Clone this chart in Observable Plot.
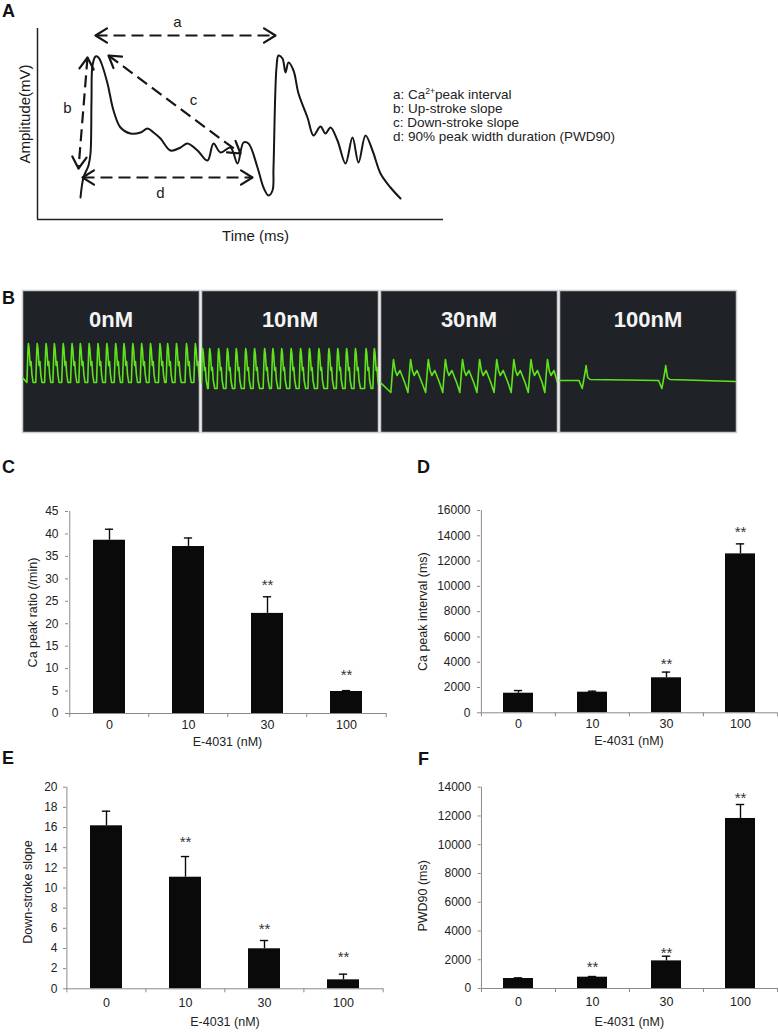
<!DOCTYPE html>
<html><head><meta charset="utf-8">
<script src="https://cdn.jsdelivr.net/npm/d3@7"></script>
<script src="https://cdn.jsdelivr.net/npm/@observablehq/plot@0.6"></script>
<style>
html,body{margin:0;padding:0;background:#fff;}
#fig{position:relative;width:778px;height:1032px;overflow:hidden;font-family:"Liberation Sans",Arial,Helvetica,sans-serif;color:#222;}
#fig svg{overflow:visible;}
.letter{position:absolute;font-weight:bold;font-size:18px;line-height:18px;color:#111;}
.legend{position:absolute;font-size:13.5px;line-height:13.9px;color:#222;white-space:nowrap;}
.legend sup{font-size:8.5px;line-height:0;vertical-align:5px;}
</style></head><body><div id="fig"></div>
<script>
// ---------------- Panel A (schematic) data ----------------
const traceTime = [43,46,51,53,54,55,58,61,64,70,76,83,93,103,110,116,123,133,143,150,160,170,176,183,193,200,206,211,220,226,231,235,236,239,241,245,248,251,256,261,270,276,283,288,293,300,308,315,321,328,335,343,353,363];
const traceAmp  = [22,42,54,66,119,154,163,162,156,136,109,92,86,87,91,87,81,69,72,76,69,59,76,67,72,56,77,76,52,32,24,29,52,152,164,161,147,157,149,126,102,84,93,86,92,79,56,82,57,84,69,46,32,21];
const arrowName = ["a","b","c","d"];
const arrowX1 = [58, 50, 71, 45];
const arrowY1 = [184, 162, 164, 42];
const arrowX2 = [238, 41, 203, 215];
const arrowY2 = [184, 51, 66, 42];
const arrowLabelX = [140, 30, 156, 123];
const arrowLabelY = [197, 111, 119, 26];
const axisTimeExtent = [0, 406];
const axisAmpExtent = [0, 191];

// ---------------- Panel B (Ca traces) data ----------------
const bConds = ["0nM","10nM","30nM","100nM"];
const peaks0nM   = [1.0,2.5,4.0,5.4,6.9,8.4,9.8,11.3,12.8,14.3,15.8,17.2,18.7,20.2,21.7,23.3,24.6,26.1,27.8,29.3];
const peaks10nM  = [0.2,1.4,2.9,4.4,5.9,7.5,9.0,10.7,12.1,13.6,15.2,16.8,18.3,19.9,21.6,23.1,24.6,26.1,27.9,29.3];
const peaks30nM  = [2.2,5.1,8.1,11.0,13.9,16.8,19.7,22.6,25.5,28.3];
const peaks100nM = [4.5,18.0];
const beat0Off   = [-0.25,-0.08,0,0.12,0.3,0.45,0.6,0.8];
const beat0Val   = [50,82,89,84,67,71,58,50];
const beat10Off  = [-0.25,-0.08,0,0.12,0.3,0.45,0.6,0.85];
const beat10Val  = [44,78,84,79,62,65,52,44];
const beat30Off  = [-0.45,-0.08,0,0.3,0.6,1.1,1.9];
const beat30Val  = [40,68,73,62,57,62,50];
const beat100Off = [-1.2,-0.65,-0.05,0,0.3,0.7];
const beat100Val = [52,44,64,67,55,53];
const traceStartVal = [55,50,50,52];
const traceEndVal   = [52,48,50,51];
const panelDuration = 30;

// ---------------- Panels C-F (bar charts) data ----------------
const cats = ["0","10","30","100"];
const ratioMean = [38.6, 37.2, 22.3, 4.9];
const ratioSd   = [2.45, 1.9, 3.7, 0.2];
const ratioStar = [null, null, 29.4, 9.4];
const ratioTicks = [0,5,10,15,20,25,30,35,40,45];
const intervalMean = [1550, 1630, 2770, 12570];
const intervalSd   = [210, 80, 450, 790];
const intervalStar = [null, null, 4140, 14630];
const intervalTicks = [0,2000,4000,6000,8000,10000,12000,14000,16000];
const slopeMean = [16.17, 11.07, 3.97, 0.89];
const slopeSd   = [1.45, 2.05, 0.82, 0.56];
const slopeStar = [null, 14.98, 6.28, 3.54];
const slopeTicks = [0,2,4,6,8,10,12,14,16,18,20];
const pwdMean = [694, 787, 1921, 11825];
const pwdSd   = [46, 46, 324, 972];
const pwdStar = [null, 1736, 2707, 13537];
const pwdTicks = [0,2000,4000,6000,8000,10000,12000,14000];

const FONT = '"Liberation Sans", Arial, Helvetica, sans-serif';
const fig = document.getElementById("fig");
function place(node, left, top) {
  node.style.position = "absolute";
  node.style.left = left + "px";
  node.style.top = top + "px";
  fig.appendChild(node);
}
function html(tag, cls, left, top, content) {
  const el = document.createElement(tag);
  el.className = cls;
  el.innerHTML = content;
  place(el, left, top);
}

// ---------------- Panel A ----------------
const traceRows = traceTime.map((t, i) => ({t, a: traceAmp[i]}));
const arrows = arrowName.map((n, i) => ({n, x1: arrowX1[i], y1: arrowY1[i], x2: arrowX2[i], y2: arrowY2[i], lx: arrowLabelX[i], ly: arrowLabelY[i]}));
const deg = (dx, dy) => Math.atan2(dx, dy) * 180 / Math.PI;
const heads = arrows.flatMap(d => [
  {x: d.x2, y: d.y2, r: deg(d.x2 - d.x1, d.y2 - d.y1)},
  {x: d.x1, y: d.y1, r: deg(d.x1 - d.x2, d.y1 - d.y2)}
]);
const chevron = {draw(ctx, l) { const w = l * 0.62; ctx.moveTo(-w, l); ctx.lineTo(0, 0); ctx.lineTo(w, l); }};

const plotA = Plot.plot({
  width: 460, height: 260,
  marginLeft: 37, marginRight: 17, marginTop: 28, marginBottom: 41,
  style: {fontFamily: FONT, color: "#1a1a1a", background: "transparent"},
  x: {domain: axisTimeExtent, axis: null},
  y: {domain: axisAmpExtent, axis: null},
  marks: [
    Plot.ruleY([axisAmpExtent[0]], {stroke: "#222", strokeWidth: 1.5}),
    Plot.ruleX([axisTimeExtent[0]], {stroke: "#222", strokeWidth: 1.5}),
    Plot.line(traceRows, {x: "t", y: "a", stroke: "#161616", strokeWidth: 2, curve: "catmull-rom"}),
    Plot.link(arrows, {x1: "x1", y1: "y1", x2: "x2", y2: "y2", stroke: "#161616", strokeWidth: 2.2, strokeDasharray: "12,6"}),
    Plot.vector(heads, {x: "x", y: "y", rotate: "r", length: 11.5, anchor: "start", shape: chevron, stroke: "#161616", strokeWidth: 2.2}),
    Plot.text(arrows, {x: "lx", y: "ly", text: "n", fontSize: 15, fill: "#1a1a1a"}),
    Plot.text(["Time (ms)"], {text: d => d, frameAnchor: "bottom", textAnchor: "middle", dx: 15, dy: 21, fontSize: 15, fill: "#1a1a1a"}),
    Plot.text(["Amplitude(mV)"], {text: d => d, frameAnchor: "left", textAnchor: "middle", rotate: -90, dx: -12, dy: -10, fontSize: 15, fill: "#1a1a1a"})
  ]
});
place(plotA, 0, 0);

html("div", "legend", 393, 88,
  "a: Ca<sup>2+</sup>peak interval<br>b: Up-stroke slope<br>c: Down-stroke slope<br>d: 90% peak width duration (PWD90)");

// ---------------- Panel B ----------------
const peakSets = [peaks0nM, peaks10nM, peaks30nM, peaks100nM];
const beatOffs = [beat0Off, beat10Off, beat30Off, beat100Off];
const beatVals = [beat0Val, beat10Val, beat30Val, beat100Val];
const bRows = [];
bConds.forEach((cond, ci) => {
  const rows = [{cond, t: 0, v: traceStartVal[ci]}, {cond, t: panelDuration, v: traceEndVal[ci]}];
  peakSets[ci].forEach(p => beatOffs[ci].forEach((o, k) => rows.push({cond, t: p + o, v: beatVals[ci][k]})));
  rows.filter(r => r.t >= 0 && r.t <= panelDuration).sort((a, b) => a.t - b.t).forEach(r => bRows.push(r));
});
const plotB = Plot.plot({
  width: 778, height: 154,
  marginLeft: 22, marginRight: 41, marginTop: 10, marginBottom: 2,
  style: {fontFamily: FONT, background: "transparent"},
  fx: {domain: bConds, paddingInner: 0.01, paddingOuter: 0, axis: null},
  x: {domain: [0, panelDuration], axis: null},
  y: {domain: [0, 142], axis: null},
  marks: [
    Plot.frame({fill: "#1f2327", stroke: "#cdcdcd", strokeWidth: 1.5}),
    Plot.line(bRows, {fx: "cond", x: "t", y: "v", stroke: "#5fe31a", strokeWidth: 1.6, clip: true}),
    Plot.text(bConds, {fx: d => d, text: d => d, frameAnchor: "top", dy: 21, fill: "#f4f4f4", fontSize: 22, fontWeight: "bold"})
  ]
});
place(plotB, 0, 280);

// ---------------- Panels C-F ----------------
function barChart(o) {
  const rows = cats.map((c, i) => ({c, v: o.mean[i], hi: o.mean[i] + o.sd[i], s: o.star[i]}));
  const starRows = rows.filter(d => d.s != null);
  const step = (o.width - o.ml - o.mr) / cats.length;
  const bw = step * 0.4;
  const ins = (bw - 8) / 2;
  return Plot.plot({
    width: o.width, height: o.height,
    marginLeft: o.ml, marginRight: o.mr, marginTop: o.mt, marginBottom: o.mb,
    style: {fontFamily: FONT, fontSize: "12px", color: "#222", background: "transparent"},
    x: {type: "band", domain: cats, paddingInner: 0.6, paddingOuter: 0.3, axis: null},
    y: {domain: o.domain, axis: null},
    marks: [
      Plot.barY(rows, {x: "c", y: "v", fill: "#0a0a0a"}),
      Plot.ruleX(rows, {x: "c", y1: "v", y2: "hi", stroke: "#0a0a0a", strokeWidth: 1.4}),
      Plot.tickY(rows, {x: "c", y: "hi", stroke: "#0a0a0a", strokeWidth: 1.4, insetLeft: ins, insetRight: ins}),
      Plot.text(starRows, {x: "c", y: "s", text: () => "**", fontSize: 15, dy: 4, fill: "#333"}),
      Plot.ruleY([o.domain[0]], {stroke: "#8a8a8a", strokeWidth: 1}),
      Plot.ruleX([cats[0]], {dx: -step / 2, stroke: "#8a8a8a", strokeWidth: 1}),
      Plot.axisY({ticks: o.ticks, tickSize: 3, tickPadding: o.tp, tickFormat: d => String(d), stroke: "#8a8a8a", fill: "#222", fontSize: 12, label: null}),
      Plot.axisX({tickSize: 4, tickFormat: () => "", dx: -step / 2, stroke: "#8a8a8a", label: null}),
      Plot.axisX({ticks: [cats[cats.length - 1]], tickSize: 4, tickFormat: () => "", dx: step / 2, stroke: "#8a8a8a", label: null}),
      Plot.text(cats, {x: d => d, text: d => d, frameAnchor: "bottom", dy: o.tickDy, fontSize: 12.5, fill: "#222"}),
      Plot.text([o.xTitle], {text: d => d, frameAnchor: "bottom", textAnchor: "middle", dy: o.titleDy, fontSize: 12.5, fill: "#222"}),
      Plot.text([o.yTitle], {text: d => d, frameAnchor: "left", textAnchor: "middle", rotate: -90, dx: -o.ylx, dy: o.yly, fontSize: 12.5, fill: "#222"})
    ]
  });
}

place(barChart({width: 390, height: 270, ml: 68, mr: 4, mt: 31, mb: 37, tp: 7, tickDy: 15, titleDy: 32, ylx: 36, yly: 0,
  mean: ratioMean, sd: ratioSd, star: ratioStar, ticks: ratioTicks, domain: [0, 45],
  xTitle: "E-4031 (nM)", yTitle: "Ca peak ratio (/min)"}), 0, 480);
place(barChart({width: 388, height: 270, ml: 90, mr: 1, mt: 30, mb: 37.7, tp: 7, tickDy: 15, titleDy: 32, ylx: 58, yly: 0,
  mean: intervalMean, sd: intervalSd, star: intervalStar, ticks: intervalTicks, domain: [0, 16000],
  xTitle: "E-4031 (nM)", yTitle: "Ca peak interval (ms)"}), 390, 480);
place(barChart({width: 390, height: 262, ml: 66, mr: 7, mt: 16.7, mb: 43.7, tp: 6, tickDy: 18.5, titleDy: 37, ylx: 39, yly: 4,
  mean: slopeMean, sd: slopeSd, star: slopeStar, ticks: slopeTicks, domain: [0, 20],
  xTitle: "E-4031 (nM)", yTitle: "Down-stroke slope"}), 0, 770);
place(barChart({width: 388, height: 262, ml: 90.7, mr: 1, mt: 16.7, mb: 44, tp: 7, tickDy: 17, titleDy: 37, ylx: 58.7, yly: 8,
  mean: pwdMean, sd: pwdSd, star: pwdStar, ticks: pwdTicks, domain: [0, 14000],
  xTitle: "E-4031 (nM)", yTitle: "PWD90 (ms)"}), 390, 770);

// ---------------- Panel letters ----------------
html("div", "letter", 2, 2, "A");
html("div", "letter", 2, 289, "B");
html("div", "letter", 2, 458, "C");
html("div", "letter", 417, 458, "D");
html("div", "letter", 2, 749, "E");
html("div", "letter", 418, 750, "F");
</script></body></html>
